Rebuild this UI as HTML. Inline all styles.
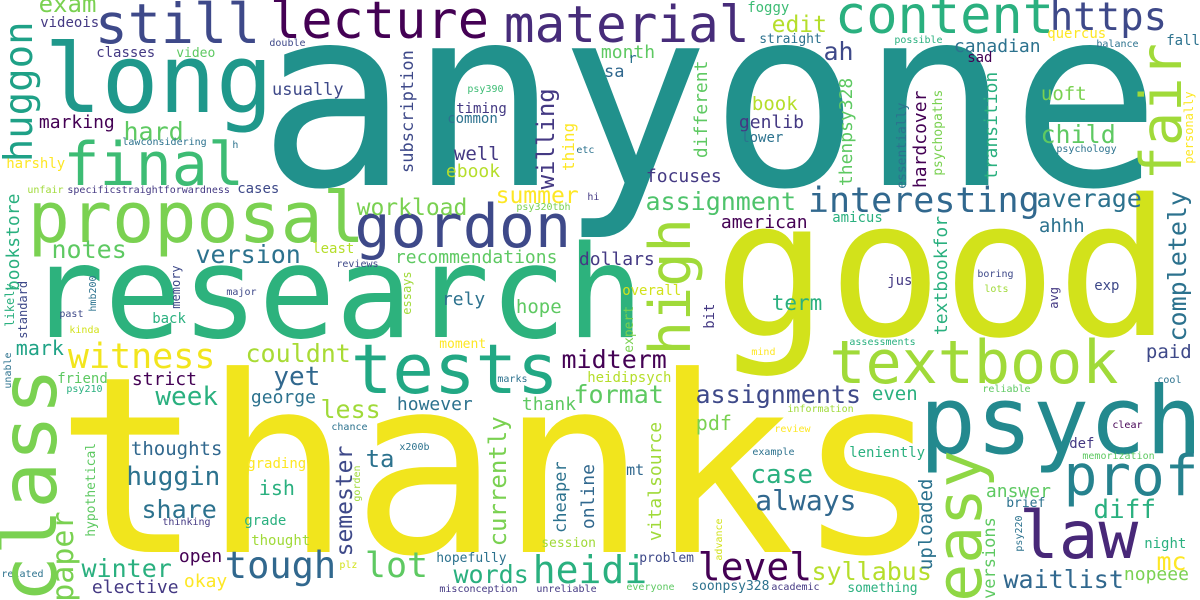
<!DOCTYPE html>
<html>
<head>
<meta charset="utf-8">
<style>
  html,body{margin:0;padding:0;background:#fff;}
  svg{display:block;}
  text{font-family:"DejaVu Sans Mono","Liberation Mono",monospace;}
</style>
</head>
<body>
<svg id="cloud" width="1200" height="600" viewBox="0 0 1200 600" xmlns="http://www.w3.org/2000/svg">
<rect width="1200" height="600" fill="#ffffff"/>
</svg>
<script>
// horizontal words
const words = ["anyone","thanks","good","research","long","still","lecture","material","content","https","final","proposal","gordon","tests","textbook","psych","law","prof","interesting","witness","tough","heidi","level","lot",
"exam","videois","classes","video","double","usually","marking","hard","lawconsidering","h","harshly","unfair","specificstraightforwardness","cases","workload","recommendations","notes","version","least","reviews","major","back","past","kinda","mark","couldnt","friend","psy210","strict","yet","week","george","less","chance","thoughts","huggin","ta","grading","ish","share","thinking","grade","thought","open","winter","plz","related","elective","okay",
"foggy","edit","straight","month","r","sa","psy390","timing","common","etc","well","ebook","book","genlib","lower","focuses","summer","hi","psy320tbh","assignment","american","dollars","overall","rely","ah","canadian","quercus","possible","balance","fall","sad","uoft","child","psychology","average","amicus","ahhh","jus","boring","lots","exp","term","assessments","paid","cool","reliable","assignments","even","information","review","clear","leniently","def","memorization","case","answer","always","brief","diff","night","mc","syllabus","waitlist","nopeee","something","soonpsy328","academic","hope","moment","mind","midterm","heidipsych","marks","however","thank","format","pdf","x200b","example","mt","session","hopefully","problem","words","misconception","unreliable","everyone"];
const colors = ["#21918c","#f1e51d","#d2e21b","#2db27d","#1f988b","#3e4989","#440154","#472c7a","#2ab07f","#3e4989","#3dbc74","#7ad151","#3e4989","#22a884","#a0da39","#23898e","#482878","#26828e","#31688e","#f2e51d","#31688e","#2ab07f","#440154","#5ec962",
"#7ad151","#443983","#443983","#5ec962","#3e4989","#3e4989","#440154","#5ec962","#2c728e","#2c728e","#fde725","#a0da39","#443983","#3e4989","#7ad151","#5ec962","#5ec962","#2c728e","#b5de2b","#3e4989","#3e4989","#2ab07f","#3e4989","#d2e21b","#20a386","#a8db34","#5ec962","#2ab07f","#440154","#31688e","#2ab07f","#2c728e","#a0da39","#2c728e","#31688e","#2c728e","#2c728e","#fde725","#2ab07f","#2c728e","#443983","#2ab07f","#a0da39","#440154","#2ab07f","#d2e21b","#2c728e","#443983","#fde725",
"#3dbc74","#b5de2b","#2c728e","#5ec962","#2c728e","#31688e","#3dbc74","#443983","#2c728e","#2c728e","#443983","#b5de2b","#b5de2b","#443983","#2c728e","#443983","#fde725","#443983","#7ad151","#4ec36b","#440154","#443983","#d2e21b","#2c728e","#3e4989","#2c728e","#fde725","#2ab07f","#2c728e","#2c728e","#440154","#7ad151","#5ec962","#2c728e","#2c728e","#2ab07f","#2c728e","#443983","#3e4989","#a0da39","#3e4989","#2ab07f","#2ab07f","#3e4989","#2c728e","#5ec962","#3e4989","#2ab07f","#a0da39","#fde725","#440154","#2ab07f","#443983","#5ec962","#2ab07f","#5ec962","#31688e","#2c728e","#2ab07f","#2ab07f","#fde725","#b5de2b","#31688e","#7ad151","#2ab07f","#2c728e","#443983","#5ec962","#fde725","#fde725","#440154","#b5de2b","#2c728e","#2c728e","#5ec962","#5ec962","#7ad151","#2c728e","#2c728e","#31688e","#a0da39","#2c728e","#3e4989","#2ab07f","#443983","#443983","#5ec962"];
const xs = [273,70,725,35,50,98,273,507,838,1052,67,32,358,355,833,925,1023,1067,810,70,227,535,700,367,
40,41,97,177,270,273,40,125,123,233,7,28,68,238,358,396,53,197,313,337,227,153,60,70,17,247,58,67,133,275,157,252,322,332,132,128,367,248,260,143,163,245,252,180,83,340,2,93,185,
748,773,760,602,629,605,468,457,448,577,455,447,753,740,742,647,497,588,517,647,722,580,623,443,825,955,1048,895,1097,1167,968,1042,1042,1057,1038,833,1040,888,978,985,1095,773,850,1147,1158,983,697,873,788,775,1113,850,1070,1083,752,987,757,1007,1095,1145,1158,813,1005,1125,848,692,772,517,440,752,563,588,498,398,523,575,697,400,753,627,542,437,640,455,440,537,627];
const ys = [185,552,335,337,112,43,38,42,33,30,185,242,247,393,383,453,558,495,212,368,578,583,580,577,
12,27,57,57,46,95,128,140,145,148,168,193,193,193,215,263,258,263,253,267,295,323,317,333,355,362,383,392,385,385,405,403,418,430,455,485,467,468,495,518,525,525,545,562,577,568,577,593,587,
12,32,43,58,63,77,92,113,123,153,160,177,110,128,142,182,203,200,210,210,228,265,295,305,60,52,38,43,47,45,62,100,143,152,207,222,232,285,277,292,290,310,345,358,383,392,403,400,412,432,428,457,448,459,483,497,510,507,518,548,570,580,588,580,592,590,590,313,348,355,368,382,382,410,410,403,430,450,455,475,547,562,562,583,592,592,590];
const sizes = [250,246,190,128,95,55,52,51,52,39,60,70,60,69,60,94,66,56,35,35,37,38,38,35,
24,14,14,13,10,17,18,25,10,10,14,10,10,14,23,18,25,25,14,10,10,14,10,10,20,25,14,10,18,26,26,18,25,10,19,26,24,14,20,25,10,14,14,18,25,10,10,18,18,
14,23,13,18,14,17,10,14,14,10,19,18,19,18,14,18,23,10,10,25,18,18,14,18,25,18,14,10,10,14,14,19,25,10,25,14,19,14,10,10,14,21,10,19,10,10,25,19,10,10,10,14,14,10,26,18,28,13,26,14,25,25,25,18,13,13,10,19,13,10,25,14,10,18,18,25,20,10,10,15,13,13,13,25,10,10,10];

// vertical words (read bottom to top): baseline x, bottom y
const vWords = ["huggon","class","fair","high","easy","bookstore","memory","likely","standard","hmb200","unable","semester","hypothetical","gorden","paper","subscription","willing","thing","different","essays","thenpsy328","essentially","hardcover","psychopaths","transition","personally","completely","textbookfor","avg","bit","expert","currently","cheaper","online","vitalsource","advance","uploaded","versions","psy220"];
const vColors = ["#1fa187","#7ad151","#a0da39","#a0da39","#8fd744","#2ab07f","#3e4989","#2ab07f","#3e4989","#2c728e","#2c728e","#3e4989","#5ec962","#a0da39","#7ad151","#3e4989","#443983","#fde725","#5ec962","#a0da39","#5ec962","#2c728e","#440154","#7ad151","#2ab07f","#fde725","#2c728e","#2ab07f","#443983","#443983","#7ad151","#7ad151","#2c728e","#31688e","#a0da39","#d2e21b","#2c728e","#5ec962","#2c728e"];
const vXs = [32,56,1181,690,981,19,180,14,27,96,11,352,95,360,73,413,554,574,707,411,852,906,926,942,997,1193,1186,947,1058,714,633,506,566,594,661,722,932,995,1022];
const vYs = [160,598,177,352,598,290,308,326,338,311,388,555,536,501,600,172,188,170,157,314,185,188,187,175,179,163,340,334,308,328,352,545,532,528,540,560,569,598,551];
const vSizes = [39,78,57,57,63,18,12,12,12,10,10,23,13,10,30,17,24,16,18,12,18,13,18,13,18,12,25,18,12,14,13,24,17,18,18,10,19,17,10];

const svg = document.getElementById('cloud');
const NS = 'http://www.w3.org/2000/svg';
for (let i = 0; i < words.length; i++) {
  const t = document.createElementNS(NS, 'text');
  t.setAttribute('x', (xs[i] - 0.06 * sizes[i]).toFixed(1));
  t.setAttribute('y', ys[i]);
  t.setAttribute('font-size', sizes[i]);
  t.setAttribute('fill', colors[i]);
  t.textContent = words[i];
  
  
  svg.appendChild(t);
}
for (let i = 0; i < vWords.length; i++) {
  const t = document.createElementNS(NS, 'text');
  const x = vXs[i];
  const y = vYs[i] + 0.06 * vSizes[i];
  t.setAttribute('x', x);
  t.setAttribute('y', y.toFixed(1));
  t.setAttribute('font-size', vSizes[i]);
  t.setAttribute('fill', vColors[i]);
  t.setAttribute('transform', 'rotate(-90 ' + x + ' ' + y.toFixed(1) + ')');
  t.textContent = vWords[i];
  
  
  svg.appendChild(t);
}
</script>
</body>
</html>
